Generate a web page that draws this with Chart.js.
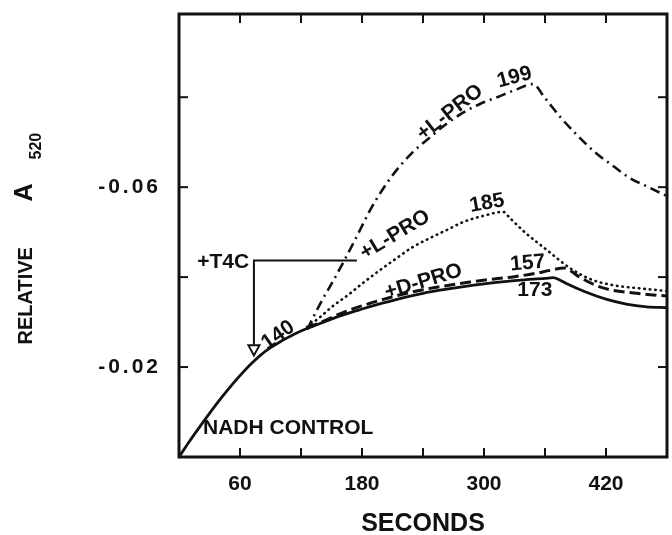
<!DOCTYPE html>
<html><head><meta charset="utf-8">
<script src="https://cdn.jsdelivr.net/npm/chart.js@4/dist/chart.umd.min.js"></script>
<style>html,body{margin:0;padding:0;background:#fff}canvas{display:block}</style>
</head><body>
<canvas id="c" width="672" height="535"></canvas>
<script>
// ---- data (seconds, relative A520) ----
const controlTime  = [0,10,20,30,40,50,60,70,80,90,100,110,120,140,160,180,200,220,240,260,280,300,320,340,360,368,374,380,400,420,440,460,480];
const controlValue = [0,-0.0034,-0.0066,-0.0097,-0.0127,-0.0155,-0.0181,-0.0205,-0.0226,-0.0243,-0.0257,-0.0269,-0.0280,-0.0298,-0.0315,-0.0329,-0.0342,-0.0354,-0.0364,-0.0372,-0.0379,-0.0385,-0.0390,-0.0394,-0.0397,-0.0399,-0.0394,-0.0387,-0.0367,-0.0351,-0.0340,-0.0334,-0.0332];

const dProTime  = [126,140,160,180,200,220,240,260,286,310,330,350,365,379,385,394,417,450,480];
const dProValue = [-0.0287,-0.0300,-0.0320,-0.0336,-0.0350,-0.0362,-0.0372,-0.0380,-0.0389,-0.0396,-0.0401,-0.0408,-0.0415,-0.0420,-0.0414,-0.0400,-0.0376,-0.0364,-0.0358];

const lPro185Time  = [126,138.7,151.5,165,181,198,214,230,247,263.6,279,299,319,325.6,340,362,384.6,404,427,453,480];
const lPro185Value = [-0.0289,-0.0311,-0.0336,-0.0358,-0.0387,-0.0416,-0.0442,-0.0467,-0.0487,-0.0505,-0.0522,-0.0536,-0.0545,-0.0531,-0.0500,-0.0460,-0.0420,-0.0396,-0.0382,-0.0375,-0.0369];

const lPro199Time  = [126,138.7,151.5,163.3,175,188,200.6,214,230,247,262.6,279,296,313,330.5,348,360,375,391.5,409,427,443.6,460,480];
const lPro199Value = [-0.0283,-0.0340,-0.0391,-0.0440,-0.0491,-0.0549,-0.0596,-0.0638,-0.0678,-0.0711,-0.0740,-0.0765,-0.0785,-0.0800,-0.0816,-0.0829,-0.0798,-0.0756,-0.0716,-0.0678,-0.0647,-0.0620,-0.0602,-0.0580];

const xTickLabels = [60,180,300,420];
const yTickLabels = [-0.02,-0.06];

// ---- annotations (text placed at data coordinates) ----
const notes = [
  {text:'NADH CONTROL', t:23.6, v:-0.0063, rot:0, align:'left'},
  {text:'+T4C', t:43.5, v:-0.0434, rot:0, align:'center'},
  {text:'140', t:97.5, v:-0.0271, rot:-35, align:'center'},
  {text:'+D-PRO', t:240.5, v:-0.0390, rot:-17, align:'center'},
  {text:'+L-PRO', t:212.4, v:-0.0494, rot:-31, align:'center'},
  {text:'+L-PRO', t:266.5, v:-0.0766, rot:-38, align:'center'},
  {text:'199', t:330, v:-0.0844, rot:-15, align:'center'},
  {text:'185', t:303, v:-0.0564, rot:-10, align:'center'},
  {text:'157', t:343, v:-0.0431, rot:-5, align:'center'},
  {text:'173', t:350, v:-0.0371, rot:0, align:'center'}
];
const arrow = {t:73.7, tEnd:175, vLevel:-0.0437, vTip:-0.0226};

const FONT = '"Liberation Sans", Arial, sans-serif';
const INK = '#111';

function zip(ts, vs){ return ts.map((t,i)=>({x:t, y:vs[i]})); }

const framePlugin = {
  id:'frame',
  beforeDraw(chart){
    const c = chart.ctx;
    c.save(); c.fillStyle = '#fff'; c.fillRect(0,0,chart.width,chart.height); c.restore();
    c.letterSpacing = '0px';
  },
  afterDatasetsDraw(chart){
    const c = chart.ctx, a = chart.chartArea, xs = chart.scales.x, ys = chart.scales.y;
    c.save();
    // frame
    c.strokeStyle = INK; c.lineWidth = 3;
    c.strokeRect(a.left, a.top, a.right - a.left, a.bottom - a.top);
    // inward ticks on all four sides
    c.lineWidth = 2;
    xs.ticks.forEach(tk => {
      if (tk.value <= xs.min || tk.value >= xs.max) return;
      const px = xs.getPixelForValue(tk.value);
      c.beginPath(); c.moveTo(px, a.bottom); c.lineTo(px, a.bottom - 9); c.stroke();
      c.beginPath(); c.moveTo(px, a.top); c.lineTo(px, a.top + 9); c.stroke();
    });
    ys.ticks.forEach(tk => {
      if (tk.value <= ys.min + 1e-6 || tk.value >= ys.max - 1e-6) return;
      const py = ys.getPixelForValue(tk.value);
      c.beginPath(); c.moveTo(a.left, py); c.lineTo(a.left + 9, py); c.stroke();
      c.beginPath(); c.moveTo(a.right, py); c.lineTo(a.right - 9, py); c.stroke();
    });
    // T4C addition arrow
    const ax = xs.getPixelForValue(arrow.t), ax2 = xs.getPixelForValue(arrow.tEnd);
    const ay = ys.getPixelForValue(arrow.vLevel), tip = ys.getPixelForValue(arrow.vTip);
    c.lineWidth = 2;
    c.beginPath(); c.moveTo(ax2, ay); c.lineTo(ax, ay); c.lineTo(ax, tip - 10); c.stroke();
    c.beginPath(); c.moveTo(ax - 5.5, tip - 10); c.lineTo(ax + 5.5, tip - 10); c.lineTo(ax, tip); c.closePath();
    c.fillStyle = '#fff'; c.fill(); c.stroke();
    // text annotations
    c.fillStyle = INK;
    c.font = 'bold 21px ' + FONT;
    c.textBaseline = 'middle';
    notes.forEach(n => {
      c.save();
      c.translate(xs.getPixelForValue(n.t), ys.getPixelForValue(n.v));
      c.rotate(n.rot * Math.PI / 180);
      c.textAlign = n.align;
      c.fillText(n.text, 0, 0);
      c.restore();
    });
    // y-axis title with subscript
    const yc = (a.top + a.bottom) / 2;
    c.save();
    c.translate(32, yc + 109);
    c.rotate(-Math.PI / 2);
    c.textAlign = 'left'; c.textBaseline = 'alphabetic';
    c.font = 'bold 20px ' + FONT;
    c.fillText('RELATIVE', 0, 0);
    c.font = 'bold 25px ' + FONT;
    c.fillText('A', 143, 0);
    c.font = 'bold 16px ' + FONT;
    c.fillText('520', 185, 9);
    c.restore();
    c.restore();
    // the y tick labels (drawn after this hook) use the wider lettering of the original
    c.letterSpacing = '3px';
  },
  afterDraw(chart){ chart.ctx.letterSpacing = '0px'; }
};

const common = {fill:false, pointRadius:0, borderColor:INK, cubicInterpolationMode:'monotone'};

new Chart(document.getElementById('c'), {
  type:'line',
  data:{
    datasets:[
      Object.assign({label:'NADH control', data:zip(controlTime, controlValue), borderWidth:2.8}, common),
      Object.assign({label:'+D-PRO', data:zip(dProTime, dProValue), borderWidth:3, borderDash:[11,5]}, common),
      Object.assign({label:'+L-PRO (185)', data:zip(lPro185Time, lPro185Value), borderWidth:2.6, borderDash:[0.5,5], borderCapStyle:'round'}, common),
      Object.assign({label:'+L-PRO (199)', data:zip(lPro199Time, lPro199Value), borderWidth:2.6, borderDash:[10,5,2,5]}, common)
    ]
  },
  options:{
    responsive:false, animation:false, devicePixelRatio:1,
    layout:{padding:{left:0, right:5, top:14, bottom:0}},
    plugins:{legend:{display:false}, tooltip:{enabled:false}},
    scales:{
      x:{
        type:'linear', min:0, max:480,
        grid:{display:false, drawTicks:false}, border:{display:false},
        ticks:{stepSize:60, padding:15, color:INK, font:{family:FONT, size:21, weight:'bold'},
          callback:v => xTickLabels.includes(v) ? String(v) : ''},
        title:{display:true, text:'SECONDS', color:INK, font:{family:FONT, size:25, weight:'bold', lineHeight:0.85}, padding:{top:0, bottom:0}},
        afterFit(s){ s.height = 78; s.paddingLeft = 0; s.paddingRight = 0; }
      },
      y:{
        type:'linear', min:-0.0985, max:0, reverse:true,
        grid:{display:false, drawTicks:false}, border:{display:false},
        ticks:{stepSize:0.02, padding:18, z:1, color:INK, font:{family:FONT, size:21, weight:'bold'},
          callback:v => { const r = Math.round(v*100)/100; return yTickLabels.includes(r) ? r.toFixed(2) : ''; }},
        afterFit(s){ s.width = 179; s.paddingTop = 0; s.paddingBottom = 0; }
      }
    }
  },
  plugins:[framePlugin]
});
</script>
</body></html>
